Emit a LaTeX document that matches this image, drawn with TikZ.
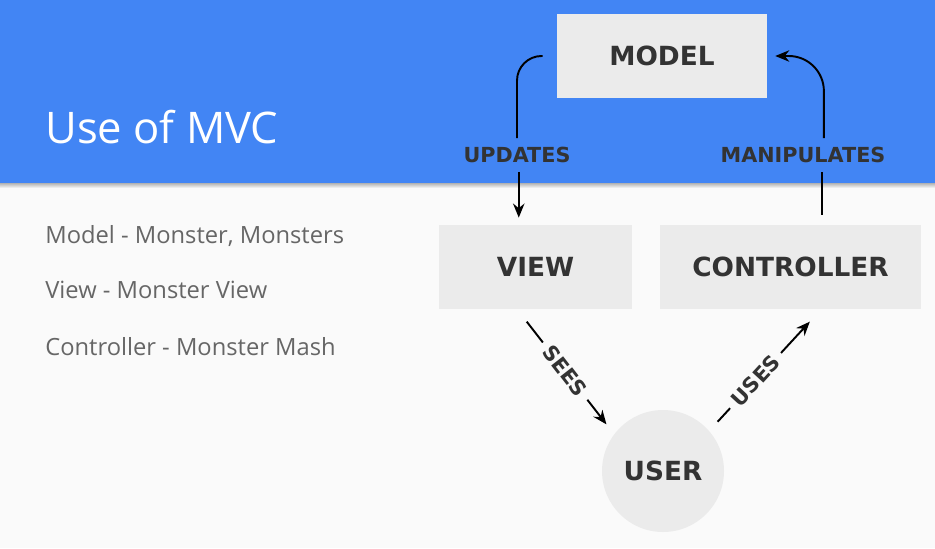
\documentclass[tikz,border=0pt]{standalone}
\usepackage{fontspec}
\setmainfont{Open Sans}
\newfontfamily\boxfont{DejaVu Sans}
\usetikzlibrary{arrows.meta}
\definecolor{slideblue}{HTML}{4285F4}
\definecolor{slidebg}{HTML}{FAFAFA}
\definecolor{boxgray}{HTML}{EBEBEB}
\definecolor{labelgray}{HTML}{333333}
\definecolor{bodygray}{HTML}{666666}
\begin{document}
\begin{tikzpicture}[x=0.02cm,y=-0.02cm,
	part/.style={fill=boxgray,text=labelgray,font=\boxfont\bfseries\fontsize{15pt}{18pt}\selectfont,minimum height=1.68cm,inner sep=0pt},
	actlabel/.style={text=labelgray,font=\boxfont\bfseries\fontsize{11.8pt}{13pt}\selectfont,inner xsep=4pt,inner ysep=5pt},
	itemtext/.style={anchor=base west,inner sep=0pt,text=bodygray,font=\fontsize{13.5pt}{16pt}\selectfont},
	link/.style={line width=1.1pt,-{Stealth[length=8pt,width=6.5pt]}}]
		\useasboundingbox (0,0) rectangle (935,548);
		\fill [slidebg] (0,0) rectangle (935,548);
		\fill [slideblue] (0,0) rectangle (935,183);
		\shade [top color=black!30,bottom color=slidebg] (0,183) rectangle (935,188);
		\node [anchor=base west,inner sep=0pt,text=white,font=\fontsize{24.8pt}{29pt}\selectfont] (title) at (45,143) {Use of MVC};
		\node [itemtext] (modeltext) at (45,243) {Model - Monster, Monsters};
		\node [itemtext] (viewtext) at (45,298) {View - Monster View};
		\node [itemtext] (controllertext) at (45,355) {Controller - Monster Mash};
		\node [part,minimum width=4.2cm] (model) at (662,56) {MODEL};
		\node [part,minimum width=3.86cm] (view) at (535.5,267) {VIEW};
		\node [part,minimum width=5.22cm] (controller) at (790.5,267) {CONTROLLER};
		\node [part,circle,minimum size=2.44cm] (user) at (663,471) {USER};
		\node [actlabel] (updates) at (517,155) {UPDATES};
		\node [actlabel] (manipulates) at (803,155) {MANIPULATES};
		\draw [line width=1.1pt,rounded corners=14pt] ([xshift=-8pt]model.west) -| (updates.north);
		\draw [link] ([xshift=1pt]updates.south) -- ([xshift=1pt,yshift=4pt]updates.south |- view.north);
		\draw [line width=1.1pt] ([xshift=18pt,yshift=5.7pt]controller.north) -- ([xshift=18pt]controller.north |- manipulates.south);
		\draw [link,rounded corners=20pt] ([xshift=19pt]controller.north |- manipulates.north) |- ([xshift=4.5pt]model.east);
		\draw [link,shorten >=7pt] ([xshift=-5pt,yshift=-7pt]view.south) -- node [actlabel,sloped,fill=slidebg,pos=0.44,inner ysep=1pt] (sees) {SEES} (user.143);
		\draw [link,shorten <=7pt] (user.41) -- node [actlabel,sloped,fill=slidebg,pos=0.46,inner ysep=1pt] (uses) {USES} ([xshift=11pt,yshift=-7pt]controller.south);
	\end{tikzpicture}
\end{document}
